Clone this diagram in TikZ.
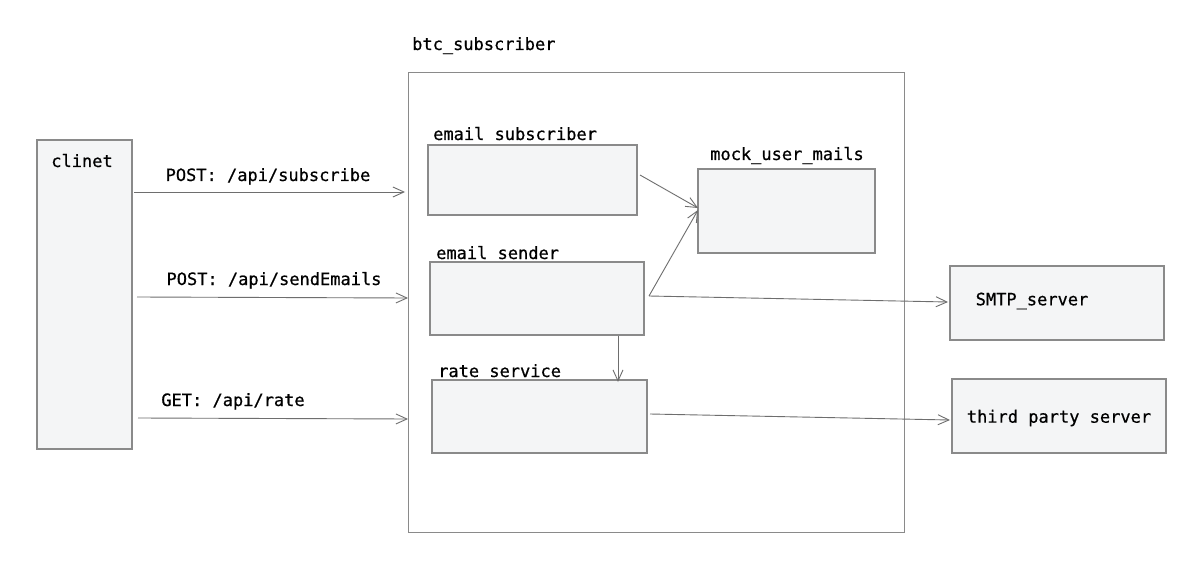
\documentclass[tikz,border=0pt]{standalone}
\usepackage{fontspec}
\newfontfamily\lblfont[FakeBold=0.6]{DejaVu Sans Mono}
\usetikzlibrary{arrows.meta}
\definecolor{boxfill}{HTML}{F4F5F6}
\definecolor{boxline}{HTML}{8A8A8A}
\definecolor{lineclr}{HTML}{6E6E6E}
\begin{document}
\begin{tikzpicture}[x=1pt,y=-1pt,
  box/.style={draw=boxline,fill=boxfill,line width=1.2pt},
  outer/.style={draw=boxline,fill=white,line width=1pt},
  lbl/.style={font=\lblfont\fontsize{17}{20}\selectfont,text=black,inner sep=0pt},
  conn/.style={draw=lineclr,line width=0.9pt,-{Straight Barb[length=11pt,width=10pt,line width=0.9pt]}},
  plain/.style={draw=lineclr,line width=0.9pt}]
\useasboundingbox[fill=white] (0,0) rectangle (1181,588);
% boxes
\draw[outer] (408,73) rectangle (904,532);
\node[lbl,anchor=base west] (btclbl) at (412,50) {btc\_subscriber};
\draw[box] (37,140) rectangle (132,449);
\node[lbl,anchor=base] (clilbl) at (82,167) {clinet};
\coordinate (cli) at (84,300);
\draw[box] (428,145) rectangle (637,215);
\node[lbl,anchor=base west] (eslbl) at (433,140) {email subscriber};
\draw[box] (698,169) rectangle (875,253);
\node[lbl,anchor=base] (mulbl) at (787,160) {mock\_user\_mails};
\draw[box] (430,262) rectangle (644,335);
\node[lbl,anchor=base west] (sendlbl) at (436,259) {email sender};
\draw[box] (432,380) rectangle (647,453);
\node[lbl,anchor=base west] (ratelbl) at (438,377) {rate service};
\draw[box] (950,266) rectangle (1164,340);
\node[lbl] (smtp) at (1032,301) {SMTP\_server};
\draw[box] (952,379) rectangle (1166,453);
\node[lbl] (third) at (1059,418) {third party server};
% connector endpoints
\coordinate (a1s) at (134,192); \coordinate (a1e) at (405,192);
\coordinate (a2s) at (137,297); \coordinate (a2e) at (408,298);
\coordinate (a3s) at (138,418); \coordinate (a3e) at (408,419);
\coordinate (ess) at (640,175); \coordinate (mue) at (698,208);
\coordinate (sds) at (649,296); \coordinate (mue2) at (698,210);
\coordinate (smtpe) at (948,302);
\coordinate (sdb) at (618,336); \coordinate (rtt) at (618,382);
\coordinate (rts) at (650,414); \coordinate (thirde) at (950,420);
\draw[conn] (a1s) -- (a1e);
\node[lbl,anchor=base] (l1) at (268,181) {POST: /api/subscribe};
\draw[conn] (a2s) -- (a2e);
\node[lbl,anchor=base] (l2) at (274,285) {POST: /api/sendEmails};
\draw[conn] (a3s) -- (a3e);
\node[lbl,anchor=base] (l3) at (233,406) {GET: /api/rate};
\draw[conn] (ess) -- (mue);
\draw[conn] (sds) -- (mue2);
\draw[conn] (sds) -- (smtpe);
\draw[conn] (sdb) -- (rtt);
\draw[conn] (rts) -- (thirde);
\end{tikzpicture}
\end{document}
